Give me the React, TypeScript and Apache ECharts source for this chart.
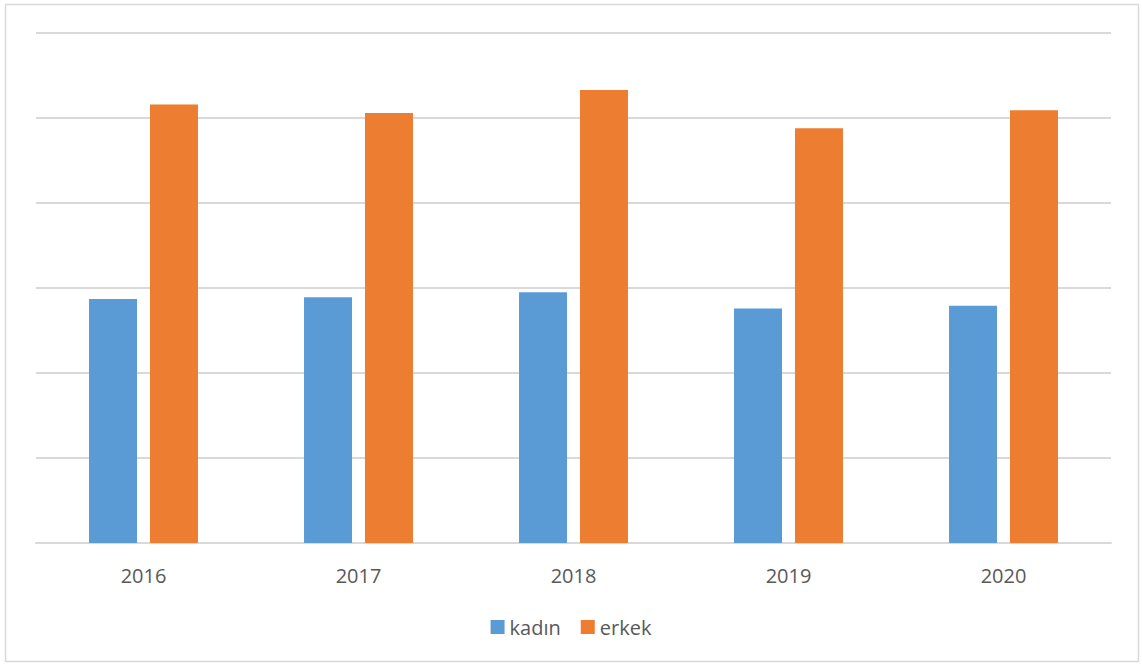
import React, { useEffect, useRef } from "react";
import * as echarts from "echarts";

const categories = ["2016", "2017", "2018", "2019", "2020"];
const kadin = [28.7, 28.9, 29.5, 27.6, 27.9];
const erkek = [51.6, 50.6, 53.3, 48.8, 50.9];
const seriesNames = ["kadın", "erkek"];

export default function App() {
  const ref = useRef<HTMLDivElement>(null);
  useEffect(() => {
    if (!ref.current) return;
    const chart = echarts.init(ref.current, undefined, { renderer: "svg" });
    const font = "'Open Sans', 'Liberation Sans', sans-serif";
    chart.setOption({
      animation: false,
      backgroundColor: "#ffffff",
      graphic: [
        {
          type: "rect",
          shape: { x: 5.5, y: 4.5, width: 1133, height: 657 },
          style: { fill: "none", stroke: "#d9d9d9", lineWidth: 1.5 },
          silent: true,
        },
      ],
      grid: { left: 36, right: 31, top: 33, bottom: 123, containLabel: false },
      legend: {
        data: seriesNames,
        bottom: 24,
        left: "center",
        itemWidth: 14,
        itemHeight: 14,
        itemGap: 20,
        icon: "rect",
        textStyle: { color: "#595959", fontSize: 20, fontFamily: font },
      },
      xAxis: {
        type: "category",
        data: categories,
        axisLine: { lineStyle: { color: "#d9d9d9", width: 2 } },
        axisTick: { show: false },
        axisLabel: { color: "#595959", fontSize: 20, fontFamily: font, margin: 22 },
      },
      yAxis: {
        type: "value",
        min: 0,
        max: 60,
        interval: 10,
        axisLabel: { show: false },
        axisLine: { show: false },
        axisTick: { show: false },
        splitLine: { lineStyle: { color: "#d9d9d9", width: 2 } },
      },
      series: [
        {
          name: seriesNames[0],
          type: "bar",
          data: kadin,
          barWidth: 48,
          barGap: "27%",
          itemStyle: { color: "#5b9bd5" },
        },
        {
          name: seriesNames[1],
          type: "bar",
          data: erkek,
          barWidth: 48,
          itemStyle: { color: "#ed7d31" },
        },
      ],
    });
    return () => chart.dispose();
  }, []);
  return (
    <div
      ref={ref}
      style={{ position: "fixed", left: 0, top: 0, width: 1142, height: 666 }}
    />
  );
}
